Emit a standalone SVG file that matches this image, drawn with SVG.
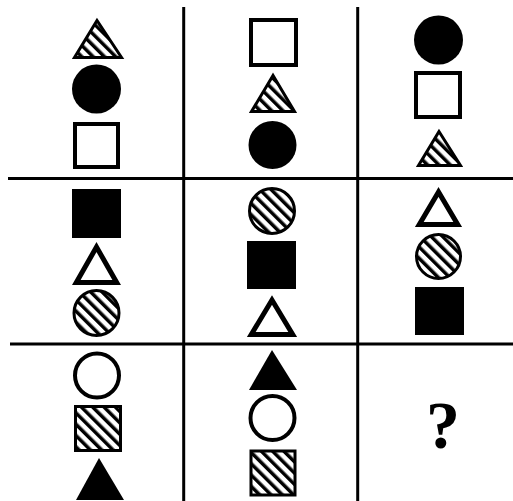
<svg xmlns="http://www.w3.org/2000/svg" width="513" height="501" viewBox="0 0 513 501">
  <defs>
    <pattern id="hatch" patternUnits="userSpaceOnUse" width="8" height="8" patternTransform="rotate(-45)">
      <rect x="0" y="0" width="8" height="8" fill="#fff"/>
      <line x1="1.75" y1="-1" x2="1.75" y2="9" stroke="#000" stroke-width="3.5"/>
    </pattern>
  </defs>
  <style>
    .grid { stroke: #000; stroke-width: 3; fill: none; }
    .solid { fill: #000; stroke: none; }
    .open { fill: #fff; stroke: #000; stroke-width: 4; }
    .opentri { fill: #fff; stroke: #000; stroke-width: 5; stroke-linejoin: miter; }
    .hatch { fill: url(#hatch); stroke: #000; stroke-width: 3; }
    .q { font-family: "Liberation Serif", "Times New Roman", serif; font-weight: bold; font-size: 68px; fill: #000; }
  </style>
  <rect x="0" y="0" width="513" height="501" fill="#fff"/>

  <g id="grid">
    <line class="grid" x1="183.7" y1="7" x2="183.7" y2="501"/>
    <line class="grid" x1="357.7" y1="7" x2="357.7" y2="501"/>
    <line class="grid" x1="8" y1="178.5" x2="513" y2="178.5"/>
    <line class="grid" x1="10" y1="344" x2="513" y2="344"/>
  </g>

  <g id="cell-1-1">
    <polygon class="hatch" points="97,20.5 74.5,57.5 121.5,57.5"/>
    <circle class="solid" cx="96.5" cy="89" r="24.5"/>
    <rect class="open" x="75" y="124" width="43" height="43"/>
  </g>

  <g id="cell-1-2">
    <rect class="open" x="251" y="20" width="45" height="45"/>
    <polygon class="hatch" points="273,75.5 251.5,111.5 294.5,111.5"/>
    <circle class="solid" cx="272.5" cy="145" r="24"/>
  </g>

  <g id="cell-1-3">
    <circle class="solid" cx="438.5" cy="40" r="24.5"/>
    <rect class="open" x="416" y="73" width="44" height="44"/>
    <polygon class="hatch" points="439,131.5 418.5,165.5 460.5,165.5"/>
  </g>

  <g id="cell-2-1">
    <rect class="solid" x="72" y="189" width="49" height="49"/>
    <polygon class="opentri" points="96.5,247 76.3,282.5 116.7,282.5"/>
    <circle class="hatch" cx="96.5" cy="313" r="22.5"/>
  </g>

  <g id="cell-2-2">
    <circle class="hatch" cx="272" cy="211" r="22.5"/>
    <rect class="solid" x="247" y="241" width="49" height="48"/>
    <polygon class="opentri" points="272,300 251.3,334.5 292.7,334.5"/>
  </g>

  <g id="cell-2-3">
    <polygon class="opentri" points="438.5,192 419.3,224.5 457.7,224.5"/>
    <circle class="hatch" cx="438.5" cy="256.5" r="22"/>
    <rect class="solid" x="415" y="287" width="49" height="48"/>
  </g>

  <g id="cell-3-1">
    <circle class="open" cx="97" cy="375.5" r="22"/>
    <rect class="hatch" x="75.5" y="406.5" width="45" height="44"/>
    <polygon class="solid" points="99,458 76,500 124,500"/>
  </g>

  <g id="cell-3-2">
    <polygon class="solid" points="272,350 249,390 297,390"/>
    <circle class="open" cx="272.5" cy="418" r="22"/>
    <rect class="hatch" x="251" y="451" width="44" height="44" stroke-width="4"/>
  </g>

  <g id="cell-3-3">
    <text class="q" x="443" y="448" text-anchor="middle">?</text>
  </g>
</svg>
